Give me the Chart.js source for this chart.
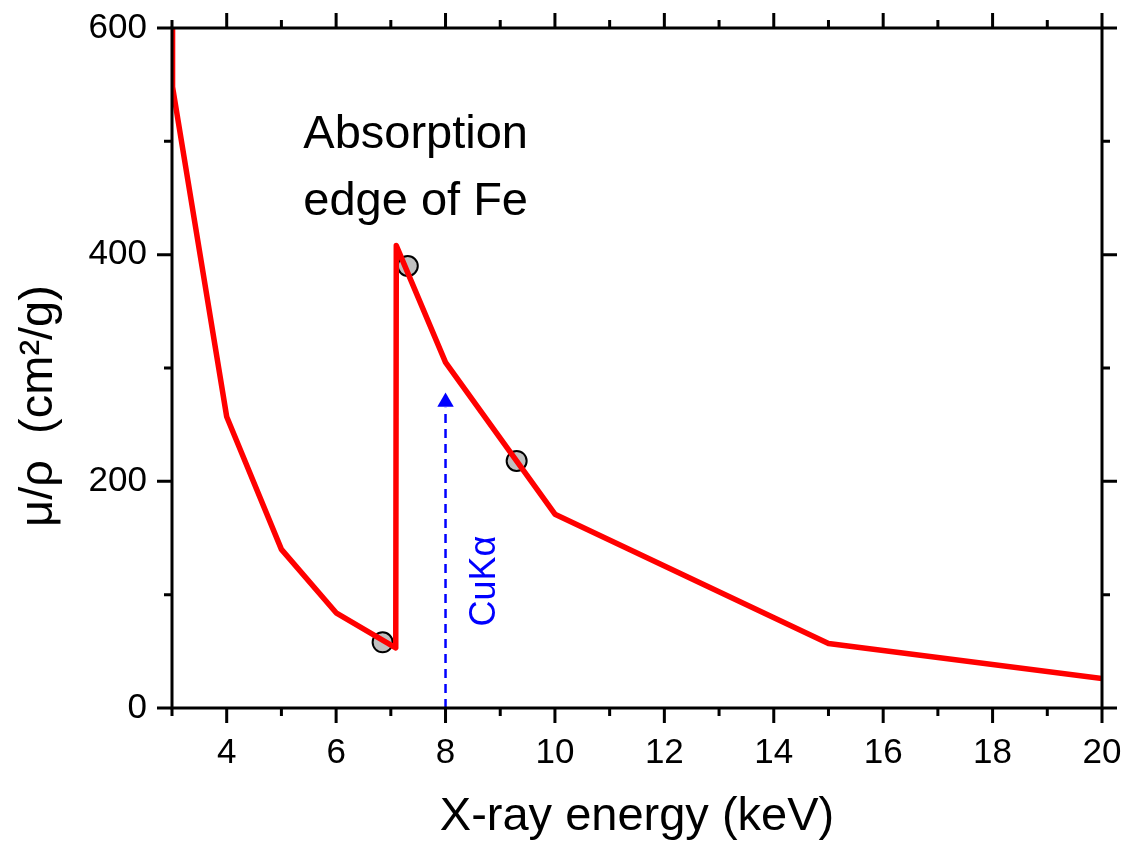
<!DOCTYPE html>
<html lang="en">
<head>
  <meta charset="UTF-8">
  <title>absorption edge</title>
  <script src="https://cdn.jsdelivr.net/npm/chart.js"></script>
  <style>
    body { margin: 0; background: #fff; }
    .wrap { width: 1126px; height: 844px; position: relative; }
  </style>
</head>
<body>
  <div class="wrap"><canvas id="edgechart"></canvas></div>
  <script>
    // mass attenuation of Fe
    const energy = [3, 3.01, 4, 5, 6, 7.09, 7.1, 8, 10, 15, 20];
    const muRho = [600, 548, 257, 140, 84, 53, 408, 305, 171, 57, 26];

    // the grey markers
    const markX = [6.85, 7.31, 9.3];
    const markY = [58, 390, 218];

    // CuKa line at 8 keV
    const cuX = [8, 8];
    const cuY = [0, 265];
    const cuHeadY = 270;

    const xMajor = [4, 6, 8, 10, 12, 14, 16, 18, 20];
    const xMinor = [3, 5, 7, 9, 11, 13, 15, 17, 19];
    const yMajor = [0, 200, 400, 600];
    const yMinor = [100, 300, 500];

    const FONT = "Arial, 'Liberation Sans', sans-serif";

    const frame = {
      id: 'frame',
      afterDatasetsDraw(chart) {
        const ctx = chart.ctx;
        const a = chart.chartArea;
        const sx = chart.scales.x, sy = chart.scales.y;
        ctx.save();
        ctx.strokeStyle = '#000';
        ctx.lineWidth = 3;
        ctx.lineCap = 'butt';
        ctx.strokeRect(a.left, a.top, a.right - a.left, a.bottom - a.top);
        ctx.beginPath();
        const tx = (v, len) => {
          const p = sx.getPixelForValue(v);
          ctx.moveTo(p, a.bottom); ctx.lineTo(p, a.bottom + len);
          ctx.moveTo(p, a.top); ctx.lineTo(p, a.top - len);
        };
        const ty = (v, len) => {
          const p = sy.getPixelForValue(v);
          ctx.moveTo(a.left, p); ctx.lineTo(a.left - len, p);
          ctx.moveTo(a.right, p); ctx.lineTo(a.right + len, p);
        };
        xMajor.forEach(v => tx(v, 15));
        xMinor.forEach(v => tx(v, 8));
        yMajor.forEach(v => ty(v, 15));
        yMinor.forEach(v => ty(v, 8));
        ctx.stroke();
        ctx.restore();
      },
      afterDraw(chart) {
        const ctx = chart.ctx;
        const a = chart.chartArea;
        const sx = chart.scales.x, sy = chart.scales.y;
        ctx.save();
        ctx.fillStyle = '#000';
        ctx.font = '47px ' + FONT;
        ctx.textAlign = 'center';
        ctx.textBaseline = 'alphabetic';
        ctx.fillText('X-ray energy (keV)', (a.left + a.right) / 2, 830);

        ctx.save();
        ctx.translate(52, 406);
        ctx.rotate(-Math.PI / 2);
        ctx.fillText('\u03bc/\u03c1  (cm\u00b2/g)', 0, 0);
        ctx.restore();

        ctx.textAlign = 'left';
        ctx.font = '47px ' + FONT;
        const lx = sx.getPixelForValue(5.4);
        ctx.fillText('Absorption', lx, 148);
        ctx.fillText('edge of Fe', lx, 215);

        ctx.fillStyle = '#0000ff';
        ctx.font = '36px ' + FONT;
        ctx.textAlign = 'center';
        ctx.save();
        ctx.translate(sx.getPixelForValue(8.9), 581);
        ctx.rotate(-Math.PI / 2);
        ctx.fillText('CuK\u03b1', 0, 0);
        ctx.restore();
        ctx.restore();
      }
    };

    const curve = energy.map((e, i) => ({ x: e, y: muRho[i] }));
    const marks = markX.map((e, i) => ({ x: e, y: markY[i] }));
    const cuLine = cuX.map((e, i) => ({ x: e, y: cuY[i] }));

    new Chart(document.getElementById('edgechart'), {
      type: 'scatter',
      data: {
        datasets: [
          {
            data: cuLine,
            showLine: true,
            borderColor: '#0000ff',
            borderWidth: 2.5,
            borderDash: [9, 6],
            pointRadius: 0
          },
          {
            data: [{ x: cuX[0], y: cuHeadY }],
            pointStyle: 'triangle',
            pointRadius: 9.5,
            backgroundColor: '#0000ff',
            borderColor: '#0000ff',
            borderWidth: 0
          },
          {
            data: curve,
            showLine: true,
            borderColor: '#ff0000',
            borderWidth: 5.5,
            borderJoinStyle: 'round',
            borderCapStyle: 'round',
            tension: 0,
            pointRadius: 0
          },
          {
            data: marks,
            pointRadius: 10,
            backgroundColor: '#c0c0c0',
            borderColor: '#000',
            borderWidth: 2
          }
        ]
      },
      options: {
        responsive: true,
        maintainAspectRatio: false,
        animation: false,
        events: [],
        layout: { padding: { top: 28, right: 24, left: 0, bottom: 0 } },
        plugins: { legend: { display: false }, tooltip: { enabled: false } },
        scales: {
          x: {
            type: 'linear',
            min: 3,
            max: 20,
            afterBuildTicks: s => { s.ticks = xMajor.map(v => ({ value: v })); },
            afterFit: s => { s.height = 136; s.paddingLeft = 0; s.paddingRight = 0; },
            grid: { display: false, drawTicks: false },
            border: { display: false },
            ticks: { color: '#000', font: { size: 35, family: FONT }, padding: 24, maxRotation: 0 }
          },
          y: {
            min: 0,
            max: 600,
            afterBuildTicks: s => { s.ticks = yMajor.map(v => ({ value: v })); },
            afterFit: s => { s.width = 172; s.paddingTop = 0; s.paddingBottom = 0; },
            grid: { display: false, drawTicks: false },
            border: { display: false },
            ticks: { color: '#000', font: { size: 35, family: FONT }, padding: 25 }
          }
        }
      },
      plugins: [frame]
    });
  </script>
</body>
</html>
